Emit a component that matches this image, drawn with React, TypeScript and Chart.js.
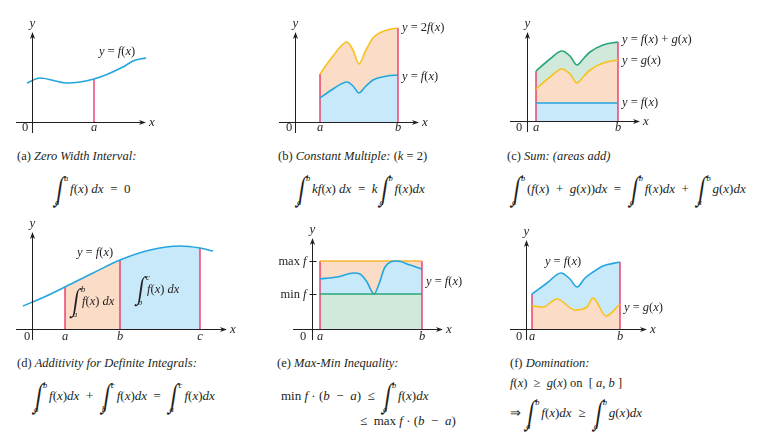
import { useEffect, useRef } from 'react'
import Chart from 'chart.js/auto'

// values read off the figure; x and y measured from the origin of each panel
// (a) zero width interval
const A_X = [-5, 8, 35, 62, 91, 101, 114]
const A_F = [39, 44, 39, 43, 55, 61, 64]
const A_A = 62

// (b) constant multiple
const B_X = [25, 38, 52, 58, 64, 70, 78, 92, 103]
const B_F = [24, 33, 40, 36, 29, 35, 42, 46, 47]
const B_2F = [48, 66, 80, 72, 58, 70, 84, 92, 94]
const B_A = 25
const B_B = 103

// (c) sum
const C_X = [9, 23, 35, 43, 50, 57, 63, 76, 91]
const C_G = [32, 44, 52, 47, 38, 45, 51, 58, 61]
const C_FG = [50, 62, 70, 65, 56, 63, 69, 76, 79]
const C_FX = [9, 91]
const C_F = [18, 18]

// (d) additivity
const D_X = [-9, 10, 33, 61, 88, 118, 148, 168, 181]
const D_F = [23, 31, 42, 56, 69, 79, 83, 81, 78]
const D_A = 33
const D_B = 88
const D_C = 168

// (e) max-min inequality
const E_X = [8, 25, 42, 48, 55, 62, 67, 73, 85, 98, 110]
const E_F = [50, 52, 56, 55, 47, 35, 45, 62, 68, 64, 60]
const E_A = 8
const E_B = 110
const E_MAX = Math.max(...E_F)
const E_MIN = Math.min(...E_F)

// (f) domination
const F_XF = [6, 21, 35, 44, 51, 59, 67, 77, 94]
const F_F = [35, 46, 56, 50, 42, 51, 57, 63, 67]
const F_XG = [6, 17, 31, 49, 61, 67, 80, 94]
const F_G = [23, 22, 30, 19, 22, 31, 13, 25]
const F_A = 6
const F_B = 94

const BLUE = '#23a6df'
const BLUE_FILL = '#c8e9f9'
const PEACH = '#fbdcc6'
const YELLOW = '#f8c21e'
const ORANGE = '#f6b630'
const GREEN = '#29a679'
const GREEN_FILL = '#d1e9da'
const RED = '#e8184f'
const INK = '#231f20'
const SERIF = "'Liberation Serif', 'Times New Roman', serif"
const LABEL = 12.5

type Part = [string, boolean]
type Tick = { v: number; t: string }
type Note = { x: number; y: number; s: string; align: 'left' | 'center' | 'right' }
type Integral = { x: number; y: number; lo: string; hi: string; s: string }

interface Panel {
  box: [number, number, number, number]
  origin: [number, number]
  xAxis: [number, number]
  yAxis: [number, number]
  labelY: number
  zeroX: number
  ticks: Tick[]
  yTicks?: Tick[]
  notes: Note[]
  integrals?: Integral[]
  sets: () => any[]
}

const UPRIGHT = ['max', 'min', 'on']
const mparts = (s: string): Part[] =>
  s
    .split(/([A-Za-z]+)/)
    .filter((t) => t !== '')
    .map((t) => [t, /^[A-Za-z]+$/.test(t) && !UPRIGHT.includes(t)])

const pts = (xs: number[], ys: number[]) => xs.map((x, i) => ({ x, y: ys[i] }))
const seg = (xs: number[], ys: number[], lo: number, hi: number) =>
  pts(xs, ys).filter((p) => p.x >= lo && p.x <= hi)
const at = (xs: number[], ys: number[], x: number) => ys[xs.indexOf(x)]

const curve = (data: any[], color: string, extra: any = {}) => ({
  data,
  borderColor: color,
  borderWidth: 1.6,
  pointRadius: 0,
  cubicInterpolationMode: 'monotone',
  fill: false,
  ...extra,
})
const area = (data: any[], bg: string) => ({
  data,
  borderWidth: 0,
  borderColor: 'rgba(0,0,0,0)',
  backgroundColor: bg,
  pointRadius: 0,
  cubicInterpolationMode: 'monotone',
  fill: 'origin',
})
const vline = (x: number, top: number) => ({
  data: [{ x, y: 0 }, { x, y: top }],
  borderColor: RED,
  borderWidth: 1.2,
  pointRadius: 0,
  fill: false,
})

const PANELS: Panel[] = [
  {
    box: [10, 12, 170, 130],
    origin: [32, 122],
    xAxis: [-16, 114],
    yAxis: [-11, 90],
    labelY: -6,
    zeroX: -7,
    ticks: [{ v: A_A, t: 'a' }],
    notes: [{ x: 85, y: 70, s: 'y = f(x)', align: 'center' }],
    sets: () => [curve(pts(A_X, A_F), BLUE), vline(A_A, at(A_X, A_F, A_A))],
  },
  {
    box: [270, 12, 200, 130],
    origin: [295, 122],
    xAxis: [-16, 124],
    yAxis: [-11, 90],
    labelY: -6,
    zeroX: -6,
    ticks: [
      { v: B_A, t: 'a' },
      { v: B_B, t: 'b' },
    ],
    notes: [
      { x: 107, y: 94, s: 'y = 2f(x)', align: 'left' },
      { x: 107, y: 45, s: 'y = f(x)', align: 'left' },
    ],
    sets: () => [
      curve(pts(B_X, B_F), BLUE, { fill: 'origin', backgroundColor: BLUE_FILL }),
      curve(pts(B_X, B_2F), YELLOW, { fill: 0, backgroundColor: PEACH }),
      vline(B_A, at(B_X, B_2F, B_A)),
      vline(B_B, at(B_X, B_2F, B_B)),
    ],
  },
  {
    box: [500, 12, 210, 130],
    origin: [527, 121],
    xAxis: [-17, 113],
    yAxis: [-11, 89],
    labelY: -7,
    zeroX: -8,
    ticks: [
      { v: C_FX[0], t: 'a' },
      { v: C_FX[1], t: 'b' },
    ],
    notes: [
      { x: 95, y: 81, s: 'y = f(x) + g(x)', align: 'left' },
      { x: 95, y: 60, s: 'y = g(x)', align: 'left' },
      { x: 95, y: 18, s: 'y = f(x)', align: 'left' },
    ],
    sets: () => [
      curve(pts(C_FX, C_F), BLUE, { fill: 'origin', backgroundColor: BLUE_FILL, cubicInterpolationMode: 'default' }),
      curve(pts(C_X, C_G), YELLOW, { fill: 0, backgroundColor: PEACH }),
      curve(pts(C_X, C_FG), GREEN, { fill: 1, backgroundColor: GREEN_FILL }),
      vline(C_FX[0], C_FG[0]),
      vline(C_FX[1], C_FG[C_FG.length - 1]),
    ],
  },
  {
    box: [8, 215, 240, 130],
    origin: [32, 329],
    xAxis: [-16, 195],
    yAxis: [-11, 97],
    labelY: -8,
    zeroX: -5,
    ticks: [
      { v: D_A, t: 'a' },
      { v: D_B, t: 'b' },
      { v: D_C, t: 'c' },
    ],
    notes: [{ x: 63, y: 76, s: 'y = f(x)', align: 'center' }],
    integrals: [
      { x: 40, y: 27, lo: 'a', hi: 'b', s: 'f(x) dx' },
      { x: 105, y: 39, lo: 'b', hi: 'c', s: 'f(x) dx' },
    ],
    sets: () => [
      curve(pts(D_X, D_F), BLUE),
      area(seg(D_X, D_F, D_A, D_B), PEACH),
      area(seg(D_X, D_F, D_B, D_C), BLUE_FILL),
      vline(D_A, at(D_X, D_F, D_A)),
      vline(D_B, at(D_X, D_F, D_B)),
      vline(D_C, at(D_X, D_F, D_C)),
    ],
  },
  {
    box: [262, 215, 220, 130],
    origin: [312, 329],
    xAxis: [-19, 131],
    yAxis: [-11, 91],
    labelY: -8,
    zeroX: -9,
    ticks: [
      { v: E_A, t: 'a' },
      { v: E_B, t: 'b' },
    ],
    yTicks: [
      { v: E_MAX, t: 'max f' },
      { v: E_MIN, t: 'min f' },
    ],
    notes: [{ x: 114, y: 47, s: 'y = f(x)', align: 'left' }],
    sets: () => [
      curve(pts([E_A, E_B], [E_MIN, E_MIN]), GREEN, { fill: 'origin', backgroundColor: GREEN_FILL, cubicInterpolationMode: 'default' }),
      curve(pts(E_X, E_F), BLUE, { fill: 0, backgroundColor: BLUE_FILL }),
      curve(pts([E_A, E_B], [E_MAX, E_MAX]), ORANGE, { fill: 1, backgroundColor: PEACH, cubicInterpolationMode: 'default' }),
      vline(E_A, E_MAX),
      vline(E_B, E_MAX),
    ],
  },
  {
    box: [500, 215, 180, 130],
    origin: [526, 329],
    xAxis: [-16, 121],
    yAxis: [-11, 89],
    labelY: -8,
    zeroX: -7,
    ticks: [
      { v: F_A, t: 'a' },
      { v: F_B, t: 'b' },
    ],
    notes: [
      { x: 37, y: 67, s: 'y = f(x)', align: 'center' },
      { x: 98, y: 21, s: 'y = g(x)', align: 'left' },
    ],
    sets: () => [
      curve(pts(F_XF, F_F), BLUE, { fill: 1, backgroundColor: BLUE_FILL }),
      curve(pts(F_XG, F_G), YELLOW, { fill: 'origin', backgroundColor: PEACH }),
      vline(F_A, at(F_XF, F_F, F_A)),
      vline(F_B, at(F_XF, F_F, F_B)),
    ],
  },
]

function rich(ctx: CanvasRenderingContext2D, parts: Part[], x: number, y: number, align: string, size: number) {
  const fonts = parts.map(([, it]) => `${it ? 'italic ' : ''}${size}px ${SERIF}`)
  const widths = parts.map(([s], i) => {
    ctx.font = fonts[i]
    return ctx.measureText(s).width
  })
  const total = widths.reduce((a, b) => a + b, 0)
  let cx = align === 'left' ? x : align === 'right' ? x - total : x - total / 2
  ctx.textAlign = 'left'
  ctx.textBaseline = 'middle'
  parts.forEach(([s], i) => {
    ctx.font = fonts[i]
    ctx.fillText(s, cx, y)
    cx += widths[i]
  })
}

function arrow(ctx: CanvasRenderingContext2D, x: number, y: number, dir: 'right' | 'up') {
  ctx.beginPath()
  if (dir === 'right') {
    ctx.moveTo(x, y)
    ctx.lineTo(x - 7, y - 2.6)
    ctx.lineTo(x - 5, y)
    ctx.lineTo(x - 7, y + 2.6)
  } else {
    ctx.moveTo(x, y)
    ctx.lineTo(x - 2.6, y + 7)
    ctx.lineTo(x, y + 5)
    ctx.lineTo(x + 2.6, y + 7)
  }
  ctx.closePath()
  ctx.fill()
}

// tall slanted integral sign on the canvas
function intSign(ctx: CanvasRenderingContext2D, x: number, y: number) {
  ctx.save()
  ctx.translate(x + 4, y)
  ctx.transform(1, 0, -0.2, 1.4, 0, 0)
  ctx.font = `22px ${SERIF}`
  ctx.textAlign = 'center'
  ctx.textBaseline = 'middle'
  ctx.fillText('\u222b', 0, 0)
  ctx.restore()
}

const decor = (p: Panel) => ({
  id: 'decor',
  afterDatasetsDraw(chart: any) {
    const { ctx } = chart
    const X = (v: number) => chart.scales.x.getPixelForValue(v)
    const Y = (v: number) => chart.scales.y.getPixelForValue(v)
    ctx.save()
    ctx.strokeStyle = INK
    ctx.fillStyle = INK
    ctx.lineWidth = 1
    const y0 = Math.round(Y(0)) + 0.5
    const x0 = Math.round(X(0)) + 0.5
    ctx.beginPath()
    ctx.moveTo(X(p.xAxis[0]), y0)
    ctx.lineTo(X(p.xAxis[1]) - 5, y0)
    ctx.moveTo(x0, Y(p.yAxis[0]))
    ctx.lineTo(x0, Y(p.yAxis[1]) + 5)
    ctx.stroke()
    arrow(ctx, X(p.xAxis[1]), y0, 'right')
    arrow(ctx, x0, Y(p.yAxis[1]), 'up')
    rich(ctx, [['x', true]], X(p.xAxis[1]) + 3, y0, 'left', 13)
    rich(ctx, [['y', true]], x0, Y(p.yAxis[1]) - 8, 'center', 13)
    rich(ctx, [['0', false]], X(p.zeroX), Y(p.labelY), 'center', LABEL)
    p.ticks.forEach((t) => rich(ctx, [[t.t, true]], X(t.v), Y(p.labelY), 'center', LABEL))
    ;(p.yTicks || []).forEach((t) => {
      const yy = Math.round(Y(t.v)) + 0.5
      ctx.beginPath()
      ctx.moveTo(x0 - 3, yy)
      ctx.lineTo(x0 + 4, yy)
      ctx.stroke()
      rich(ctx, mparts(t.t), x0 - 6, yy, 'right', LABEL)
    })
    p.notes.forEach((n) => rich(ctx, mparts(n.s), X(n.x), Y(n.y), n.align, LABEL))
    ;(p.integrals || []).forEach((g) => {
      const gx = X(g.x)
      const gy = Y(g.y)
      intSign(ctx, gx, gy)
      rich(ctx, [[g.hi, true]], gx + 9, gy - 12, 'left', 8.5)
      rich(ctx, [[g.lo, true]], gx + 1, gy + 13, 'left', 8.5)
      rich(ctx, mparts(g.s), gx + 10, gy, 'left', LABEL)
    })
    ctx.restore()
  },
})

function PanelChart({ p }: { p: Panel }) {
  const ref = useRef<HTMLCanvasElement>(null)
  const [left, top, w, h] = p.box

  useEffect(() => {
    if (!ref.current) return
    const [ox, oy] = p.origin
    const chart = new Chart(ref.current, {
      type: 'line',
      data: { datasets: p.sets() },
      options: {
        animation: false,
        responsive: false,
        events: [],
        layout: { padding: 0 },
        scales: {
          x: { type: 'linear', display: false, min: left - ox, max: left + w - ox },
          y: { type: 'linear', display: false, min: oy - top - h, max: oy - top },
        },
        plugins: {
          legend: { display: false },
          tooltip: { enabled: false },
          filler: { drawTime: 'beforeDatasetsDraw' },
        },
      } as any,
      plugins: [decor(p)],
    })
    return () => chart.destroy()
  }, [p])

  return <canvas ref={ref} width={w} height={h} style={{ position: 'absolute', left, top, width: w, height: h }} />
}

function M({ s }: { s: string }) {
  return (
    <>
      {mparts(s).map(([t, it], i) => (it ? <i key={i}>{t}</i> : <span key={i}>{t}</span>))}
    </>
  )
}

function Int({ lo, hi }: { lo: string; hi: string }) {
  return (
    <span style={{ position: 'relative', display: 'inline-block', width: 17, height: 32 }}>
      <span
        style={{
          position: 'absolute',
          left: 1,
          top: 1,
          width: 12,
          textAlign: 'center',
          fontSize: 23,
          lineHeight: '30px',
          transform: 'scaleY(1.4) skewX(-12deg)',
        }}
      >
        {'\u222b'}
      </span>
      <i style={{ position: 'absolute', left: 11, top: 0, fontSize: 8.5, lineHeight: '10px' }}>{hi}</i>
      <i style={{ position: 'absolute', left: 2, top: 24, fontSize: 8.5, lineHeight: '10px' }}>{lo}</i>
    </span>
  )
}

function Row({ x, y, children }: { x: number; y: number; children: any }) {
  return (
    <div
      style={{
        position: 'absolute',
        left: x,
        top: y - 16,
        height: 32,
        display: 'flex',
        alignItems: 'center',
        whiteSpace: 'pre',
        fontSize: 13,
      }}
    >
      {children}
    </div>
  )
}

function Caption({ x, y, children }: { x: number; y: number; children: any }) {
  return (
    <div style={{ position: 'absolute', left: x, top: y - 8, lineHeight: '16px', whiteSpace: 'pre', fontSize: 12.5 }}>
      {children}
    </div>
  )
}

export default function App() {
  return (
    <div
      style={{
        position: 'absolute',
        left: 0,
        top: 0,
        width: 781,
        height: 439,
        background: '#fff',
        color: INK,
        fontFamily: SERIF,
        overflow: 'hidden',
      }}
    >
      {PANELS.map((p, i) => (
        <PanelChart key={i} p={p} />
      ))}

      <Caption x={17} y={156}>
        (a) <i>Zero Width Interval:</i>
      </Caption>
      <Row x={53} y={189}>
        <Int lo="a" hi="a" />
        <M s="f(x) dx  =  0" />
      </Row>

      <Caption x={278} y={156}>
        (b) <i>Constant Multiple:</i> (<i>k</i> = 2)
      </Caption>
      <Row x={295} y={189}>
        <Int lo="a" hi="b" />
        <M s="kf(x) dx  =  k" />
        <Int lo="a" hi="b" />
        <M s="f(x)dx" />
      </Row>

      <Caption x={507} y={156}>
        (c) <i>Sum: (areas add)</i>
      </Caption>
      <Row x={510} y={189}>
        <Int lo="a" hi="b" />
        <M s="(f(x)  +  g(x))dx  =  " />
        <Int lo="a" hi="b" />
        <M s="f(x)dx  +  " />
        <Int lo="a" hi="b" />
        <M s="g(x)dx" />
      </Row>

      <Caption x={17} y={363}>
        (d) <i>Additivity for Definite Integrals:</i>
      </Caption>
      <Row x={32} y={396}>
        <Int lo="a" hi="b" />
        <M s="f(x)dx  +  " />
        <Int lo="b" hi="c" />
        <M s="f(x)dx  =  " />
        <Int lo="a" hi="c" />
        <M s="f(x)dx" />
      </Row>

      <Caption x={277} y={363}>
        (e) <i>Max-Min Inequality:</i>
      </Caption>
      <Row x={281} y={396}>
        <M s={'min f \u00b7 (b  \u2212  a)  \u2264  '} />
        <Int lo="a" hi="b" />
        <M s="f(x)dx" />
      </Row>
      <Row x={360} y={421}>
        <M s={'\u2264  max f \u00b7 (b  \u2212  a)'} />
      </Row>

      <Caption x={510} y={363}>
        (f) <i>Domination:</i>
      </Caption>
      <Caption x={510} y={383}>
        <M s={'f(x)  \u2265  g(x) on  [ a, b ]'} />
      </Caption>
      <Row x={510} y={413}>
        <M s={'\u21d2 '} />
        <Int lo="a" hi="b" />
        <M s={'f(x)dx  \u2265  '} />
        <Int lo="a" hi="b" />
        <M s="g(x)dx" />
      </Row>
    </div>
  )
}
